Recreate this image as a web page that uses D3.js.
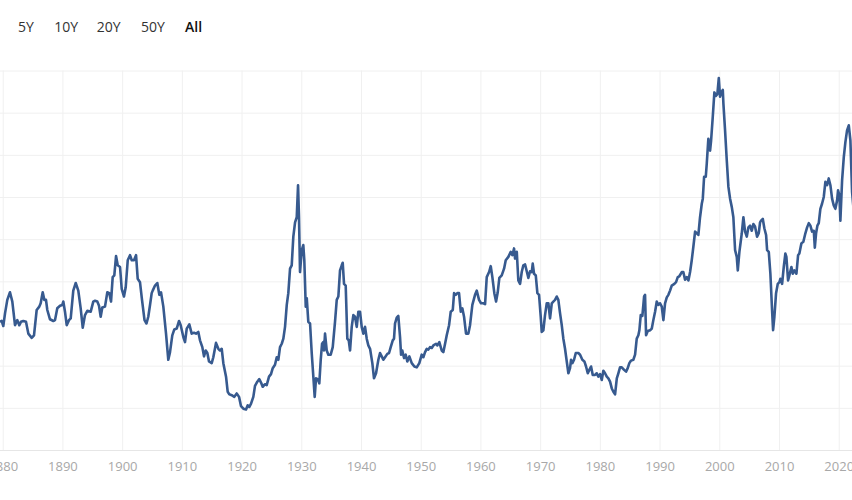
<!DOCTYPE html>
<html>
<head>
<meta charset="utf-8">
<script src="https://cdn.jsdelivr.net/npm/d3@7"></script>
<style>
	body { margin: 0; background: #fff; font-family: 'Open Sans', sans-serif; }
	.range-btn { font-size: 14px; fill: #333; }
	.range-btn.active { font-weight: 600; fill: #111; }
	.axis text { font-size: 13px; fill: #a8a8a8; font-family: 'Open Sans', sans-serif; }
	.grid line { stroke: #f0f0f0; stroke-width: 1; }
	.grid .domain { display: none; }
</style>
</head>
<body>
<svg id="chart"></svg>
<script>
// Range selector labels
const rangeLabels = ['5Y', '10Y', '20Y', '50Y', 'All'];
const activeRange = 'All';

// Decade ticks along the time axis
const decadeTicks = [1880, 1890, 1900, 1910, 1920, 1930, 1940, 1950, 1960, 1970, 1980, 1990, 2000, 2010, 2020];

// Value gridlines (y labels sit off the visible area)
const valueTicks = [0, 5, 10, 15, 20, 25, 30, 35, 40, 45];

// Shiller PE (CAPE) series: [decimal year, value]
const capeSeries = [
	[1879.55, 15.2], [1879.83, 15.3], [1880.10, 14.7], [1880.39, 16.2], [1880.77, 17.8], [1881.22, 18.7],
	[1881.61, 17.6], [1882.06, 14.8], [1882.45, 15.4], [1882.78, 14.8], [1883.06, 15.2], [1883.45, 15.3],
	[1883.90, 15.2], [1884.29, 13.8], [1884.86, 13.3], [1885.24, 13.6], [1885.69, 16.6], [1886.13, 17.0],
	[1886.36, 17.4], [1886.70, 18.7], [1886.97, 17.8], [1887.25, 17.8], [1887.47, 16.6], [1887.92, 15.5],
	[1888.48, 15.3], [1888.76, 15.4], [1889.14, 16.8], [1889.60, 17.1], [1889.98, 17.2], [1890.15, 17.6],
	[1890.43, 16.4], [1890.72, 14.8], [1891.10, 15.4], [1891.39, 15.6], [1891.82, 18.9], [1892.23, 19.8],
	[1892.66, 18.9], [1893.06, 16.8], [1893.40, 14.5], [1893.78, 16.0], [1894.17, 16.5], [1894.74, 16.4],
	[1895.17, 17.6], [1895.46, 17.7], [1895.84, 17.6], [1896.13, 17.1], [1896.41, 15.8], [1896.68, 16.9],
	[1897.13, 17.0], [1897.52, 18.7], [1897.85, 18.6], [1898.14, 17.6], [1898.42, 20.5], [1898.69, 20.7],
	[1898.98, 23.0], [1899.26, 21.9], [1899.65, 21.7], [1899.93, 19.1], [1900.31, 18.2], [1900.60, 19.3],
	[1900.94, 22.5], [1901.32, 23.1], [1901.61, 22.5], [1901.99, 22.5], [1902.33, 23.1], [1902.61, 20.3],
	[1902.99, 19.9], [1903.33, 17.8], [1903.75, 15.4], [1904.08, 15.0], [1904.38, 15.8], [1904.67, 17.2],
	[1904.95, 18.6], [1905.12, 18.9], [1905.51, 19.5], [1905.89, 19.8], [1906.23, 18.4], [1906.51, 18.7],
	[1906.90, 17.0], [1907.35, 13.8], [1907.73, 10.7], [1908.02, 11.6], [1908.40, 13.6], [1908.74, 14.3],
	[1909.14, 14.4], [1909.53, 15.3], [1909.81, 14.8], [1910.25, 13.4], [1910.53, 12.8], [1910.82, 14.4],
	[1911.25, 14.9], [1911.65, 13.8], [1912.04, 13.9], [1912.37, 13.8], [1912.76, 14.0], [1913.04, 13.0],
	[1913.43, 12.2], [1913.71, 11.1], [1914.00, 11.8], [1914.27, 11.5], [1914.55, 10.5], [1915.00, 10.3],
	[1915.27, 11.0], [1915.72, 12.7], [1916.11, 12.0], [1916.39, 11.8], [1916.68, 12.0], [1916.95, 10.3],
	[1917.40, 8.7], [1917.68, 6.9], [1917.95, 6.6], [1918.35, 6.5], [1918.79, 6.3], [1919.19, 6.7],
	[1919.58, 6.3], [1919.91, 5.2], [1920.30, 4.9], [1920.75, 4.8], [1921.03, 5.3], [1921.30, 5.1],
	[1921.59, 5.5], [1921.97, 6.3], [1922.25, 7.6], [1922.64, 8.1], [1922.97, 8.4], [1923.26, 8.0],
	[1923.54, 7.5], [1923.93, 7.8], [1924.21, 7.7], [1924.60, 8.7], [1924.93, 9.0], [1925.22, 9.7],
	[1925.60, 10.1], [1925.89, 11.0], [1926.16, 10.7], [1926.44, 12.2], [1926.73, 12.6], [1927.00, 13.2],
	[1927.28, 14.6], [1927.57, 17.2], [1927.83, 18.6], [1928.12, 21.5], [1928.40, 21.9], [1928.67, 25.3],
	[1928.96, 27.0], [1929.24, 27.6], [1929.46, 31.4], [1929.62, 27.6], [1929.79, 21.1], [1930.08, 23.7],
	[1930.34, 24.3], [1930.51, 22.5], [1930.75, 17.0], [1930.92, 18.0], [1931.18, 15.2], [1931.47, 15.0],
	[1931.75, 11.5], [1932.02, 8.7], [1932.25, 6.3], [1932.47, 8.5], [1932.76, 8.4], [1933.02, 7.9],
	[1933.26, 10.7], [1933.48, 12.6], [1933.69, 12.8], [1933.81, 11.8], [1933.98, 13.8], [1934.26, 11.8],
	[1934.53, 11.3], [1934.93, 11.3], [1935.27, 12.2], [1935.65, 15.2], [1935.94, 17.8], [1936.21, 18.2],
	[1936.49, 21.3], [1936.78, 21.9], [1936.94, 22.2], [1937.16, 19.7], [1937.44, 19.5], [1937.71, 13.2],
	[1937.95, 13.0], [1938.17, 11.8], [1938.45, 14.6], [1938.72, 16.0], [1939.00, 15.8], [1939.29, 14.6],
	[1939.56, 16.4], [1939.84, 16.4], [1940.12, 14.6], [1940.40, 13.8], [1940.68, 14.6], [1940.96, 13.2],
	[1941.23, 12.4], [1941.52, 12.0], [1941.90, 10.3], [1942.18, 8.5], [1942.52, 9.1], [1942.91, 10.7],
	[1943.19, 11.5], [1943.47, 11.1], [1943.74, 10.7], [1944.03, 11.0], [1944.41, 11.4], [1944.70, 11.5],
	[1944.98, 12.2], [1945.32, 13.0], [1945.53, 13.2], [1945.70, 15.0], [1945.99, 15.7], [1946.25, 15.9],
	[1946.54, 13.4], [1946.71, 11.3], [1946.92, 11.8], [1947.21, 10.9], [1947.49, 11.3], [1947.76, 10.5],
	[1948.10, 11.1], [1948.50, 10.3], [1948.94, 9.9], [1949.34, 9.8], [1949.77, 10.3], [1950.17, 11.3],
	[1950.44, 11.0], [1950.73, 11.6], [1951.01, 12.0], [1951.28, 11.9], [1951.56, 12.2], [1951.85, 12.1],
	[1952.12, 12.4], [1952.57, 12.6], [1952.79, 12.4], [1953.12, 12.8], [1953.52, 11.8], [1953.79, 11.6],
	[1954.08, 12.6], [1954.36, 13.6], [1954.75, 14.8], [1955.03, 16.4], [1955.37, 16.6], [1955.59, 18.6],
	[1955.87, 18.4], [1956.14, 18.6], [1956.42, 18.6], [1956.71, 16.4], [1956.97, 16.8], [1957.26, 15.8],
	[1957.59, 13.8], [1957.98, 13.8], [1958.26, 14.8], [1958.65, 17.2], [1959.10, 18.4], [1959.38, 18.9],
	[1959.77, 17.8], [1960.10, 17.4], [1960.49, 17.4], [1960.78, 17.3], [1961.06, 20.5], [1961.45, 21.1],
	[1961.73, 21.8], [1962.00, 20.5], [1962.33, 18.6], [1962.62, 17.6], [1962.90, 18.7], [1963.17, 20.4],
	[1963.57, 20.7], [1963.96, 21.5], [1964.24, 22.5], [1964.68, 22.9], [1965.08, 23.5], [1965.35, 23.1],
	[1965.63, 23.9], [1965.80, 22.7], [1966.09, 23.5], [1966.35, 20.1], [1966.64, 19.7], [1966.92, 21.1],
	[1967.19, 21.9], [1967.48, 22.0], [1967.86, 20.9], [1968.03, 20.4], [1968.31, 21.2], [1968.60, 21.1],
	[1968.76, 22.1], [1968.98, 20.9], [1969.27, 20.7], [1969.54, 18.6], [1969.82, 18.4], [1970.10, 15.8],
	[1970.27, 14.0], [1970.54, 14.2], [1970.82, 16.0], [1971.11, 17.4], [1971.38, 17.4], [1971.66, 15.6],
	[1971.95, 17.4], [1972.21, 17.6], [1972.50, 17.8], [1972.78, 18.2], [1973.05, 17.8], [1973.34, 16.2],
	[1973.62, 14.8], [1973.89, 13.2], [1974.17, 12.0], [1974.46, 10.5], [1974.73, 9.1], [1975.01, 9.7],
	[1975.18, 10.7], [1975.40, 10.3], [1975.68, 10.7], [1975.97, 11.5], [1976.40, 11.5], [1976.69, 11.3],
	[1977.07, 10.7], [1977.41, 10.5], [1977.69, 9.9], [1977.98, 9.1], [1978.24, 9.5], [1978.53, 9.9],
	[1978.81, 8.9], [1979.20, 8.9], [1979.48, 9.1], [1979.75, 8.7], [1980.03, 9.0], [1980.32, 8.3],
	[1980.59, 9.4], [1980.87, 9.1], [1981.16, 8.7], [1981.43, 8.5], [1981.71, 8.1], [1982.00, 7.3],
	[1982.27, 6.9], [1982.55, 6.6], [1982.84, 8.5], [1983.10, 9.1], [1983.38, 9.8], [1983.67, 9.8],
	[1984.06, 9.5], [1984.39, 9.3], [1984.67, 9.7], [1984.94, 10.3], [1985.23, 10.6], [1985.61, 10.7],
	[1985.90, 11.3], [1986.18, 13.2], [1986.45, 13.6], [1986.62, 14.2], [1986.85, 16.0], [1987.12, 15.9],
	[1987.41, 18.2], [1987.57, 18.4], [1987.74, 13.6], [1988.03, 14.1], [1988.41, 14.2], [1988.70, 14.4],
	[1988.96, 15.4], [1989.25, 16.4], [1989.53, 17.6], [1989.80, 17.2], [1990.08, 17.4], [1990.37, 17.0],
	[1990.64, 15.4], [1990.92, 17.4], [1991.21, 18.1], [1991.48, 18.4], [1991.76, 18.9], [1992.04, 19.5],
	[1992.48, 19.7], [1992.76, 19.9], [1993.05, 20.5], [1993.31, 20.6], [1993.72, 21.1], [1993.98, 21.1],
	[1994.27, 20.2], [1994.56, 20.5], [1994.83, 20.1], [1995.11, 21.1], [1995.39, 22.5], [1995.66, 24.1],
	[1995.95, 25.9], [1996.23, 25.7], [1996.50, 25.5], [1996.78, 27.6], [1997.07, 29.2], [1997.24, 29.8],
	[1997.46, 32.4], [1997.74, 32.4], [1997.91, 34.0], [1998.17, 36.9], [1998.46, 35.5], [1998.63, 36.7],
	[1998.91, 39.5], [1999.18, 42.4], [1999.46, 42.0], [1999.68, 42.2], [1999.92, 44.1], [2000.13, 41.9],
	[2000.35, 42.4], [2000.59, 42.7], [2000.69, 41.1], [2000.97, 37.9], [2001.26, 34.3], [2001.53, 31.2],
	[2001.81, 29.8], [2002.10, 28.8], [2002.36, 27.6], [2002.65, 23.7], [2002.93, 22.9], [2003.10, 21.3],
	[2003.37, 23.5], [2003.77, 25.7], [2004.04, 27.6], [2004.32, 25.9], [2004.61, 25.3], [2004.88, 26.4],
	[2005.16, 26.6], [2005.44, 26.0], [2005.71, 26.8], [2005.99, 26.5], [2006.33, 25.3], [2006.61, 25.7],
	[2006.83, 27.0], [2007.00, 27.2], [2007.29, 27.4], [2007.55, 26.3], [2007.84, 25.5], [2008.01, 23.7],
	[2008.29, 23.5], [2008.56, 20.9], [2008.84, 16.6], [2009.01, 14.2], [2009.23, 15.8], [2009.51, 18.6],
	[2009.80, 19.7], [2010.07, 19.9], [2010.23, 20.3], [2010.52, 19.7], [2010.80, 21.7], [2011.07, 23.3],
	[2011.24, 22.9], [2011.52, 20.1], [2011.74, 20.7], [2012.08, 21.7], [2012.31, 20.9], [2012.58, 21.3],
	[2012.92, 20.9], [2013.20, 23.1], [2013.41, 23.3], [2013.75, 24.5], [2014.08, 24.7], [2014.42, 25.7],
	[2014.71, 26.4], [2014.99, 26.9], [2015.26, 26.6], [2015.54, 25.9], [2015.83, 26.0], [2016.00, 24.0],
	[2016.21, 25.7], [2016.43, 26.6], [2016.66, 26.9], [2016.93, 28.6], [2017.21, 29.2], [2017.50, 30.0],
	[2017.77, 31.8], [2018.05, 31.4], [2018.33, 32.2], [2018.61, 31.4], [2018.89, 29.8], [2019.17, 29.0],
	[2019.44, 28.6], [2019.73, 29.6], [2019.89, 30.8], [2020.12, 30.2], [2020.28, 27.2], [2020.57, 32.0],
	[2020.85, 34.7], [2021.12, 36.5], [2021.40, 37.9], [2021.69, 38.5], [2021.96, 36.7], [2022.24, 30.6],
	[2022.50, 28.5]
];

const width = 852;
const height = 500;
const plot = { top: 70.5, bottom: 450, left: 2.7, right: 838.7 };

const svg = d3.select('#chart')
	.attr('width', width)
	.attr('height', height);

// scales: the decade ticks pin the visible window, the line runs past both edges
const xScale = d3.scaleLinear()
	.domain([decadeTicks[0], decadeTicks[decadeTicks.length - 1]])
	.range([plot.left, plot.right]);

const yScale = d3.scaleLinear()
	.domain([0, 45])
	.range([plot.bottom, plot.top]);

// horizontal gridlines, spanning the whole window
svg.append('g')
	.attr('class', 'grid y-grid')
	.call(d3.axisLeft(yScale)
		.tickValues(valueTicks)
		.tickSize(-(width + 10))
		.tickFormat(''))
	.call(g => g.selectAll('line').attr('x1', -10));

// vertical gridlines
svg.append('g')
	.attr('class', 'grid x-grid')
	.attr('transform', `translate(0,${plot.bottom})`)
	.call(d3.axisBottom(xScale)
		.tickValues(decadeTicks)
		.tickSize(-(plot.bottom - plot.top))
		.tickFormat(''));

// bottom axis with year labels
const xAxisG = svg.append('g')
	.attr('class', 'axis x-axis')
	.attr('transform', `translate(0,${plot.bottom})`)
	.call(d3.axisBottom(xScale)
		.tickValues(decadeTicks)
		.tickSize(0)
		.tickFormat(d3.format('d')));

xAxisG.select('.domain')
	.attr('d', `M-10,0.5H${width + 10}`)
	.attr('stroke', '#e6e6e6');
xAxisG.selectAll('text')
	.attr('y', 20.5)
	.attr('dy', 0);

// the CAPE line
const line = d3.line()
	.x(d => xScale(d[0]))
	.y(d => yScale(d[1]));

svg.append('path')
	.datum(capeSeries)
	.attr('class', 'line')
	.attr('fill', 'none')
	.attr('stroke', '#375a8f')
	.attr('stroke-width', 2.6)
	.attr('stroke-linejoin', 'round')
	.attr('d', line);

// range selector
const btnX = [18, 54.3, 96.7, 141, 185];
svg.append('g')
	.attr('class', 'range-selector')
	.selectAll('text')
	.data(rangeLabels)
	.join('text')
	.attr('class', d => d === activeRange ? 'range-btn active' : 'range-btn')
	.attr('x', (d, i) => btnX[i])
	.attr('y', 32)
	.text(d => d);
</script>
</body>
</html>
